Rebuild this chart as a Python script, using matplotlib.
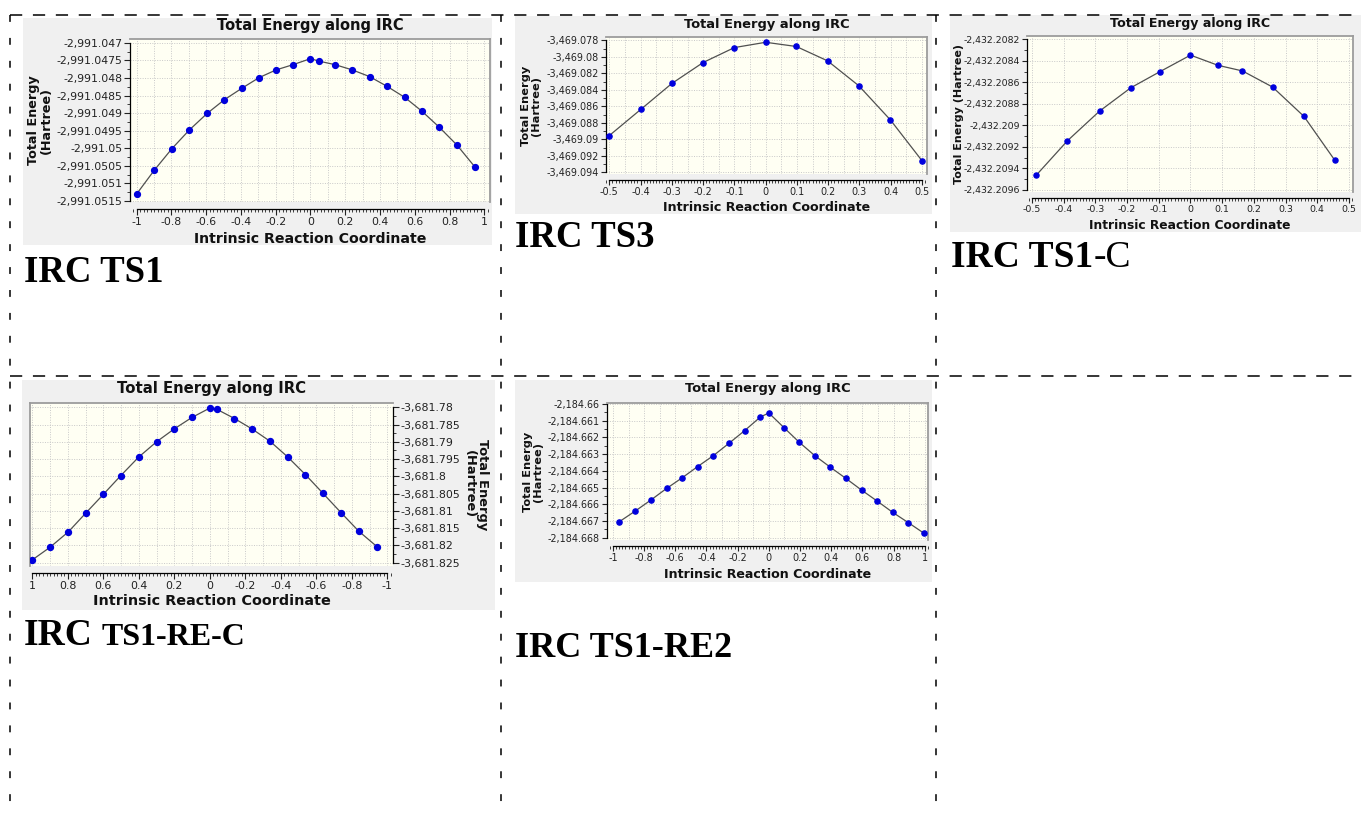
import numpy as np
import matplotlib.pyplot as plt
from matplotlib.patches import Rectangle
from matplotlib.ticker import MultipleLocator, AutoMinorLocator, FixedLocator, FuncFormatter

W, H = 1361, 817

# ---- data ----
ts1_x = [-1.0, -0.898, -0.797, -0.697, -0.595, -0.496, -0.394, -0.296, -0.198, -0.100, 0.0,
         0.049, 0.141, 0.241, 0.340, 0.438, 0.542, 0.640, 0.741, 0.843, 0.944]
ts1_e = [-2991.05130, -2991.05062, -2991.05001, -2991.04948, -2991.04901, -2991.04862,
         -2991.04829, -2991.04799, -2991.04777, -2991.04762, -2991.04745, -2991.04752,
         -2991.04762, -2991.04777, -2991.04796, -2991.04823, -2991.04855, -2991.04894,
         -2991.04940, -2991.04991, -2991.05052]
ts1_yticks = [-2991.047, -2991.0475, -2991.048, -2991.0485, -2991.049, -2991.0495,
              -2991.05, -2991.0505, -2991.051, -2991.0515]

ts3_x = [-0.5, -0.399, -0.300, -0.200, -0.100, 0.0, 0.098, 0.198, 0.298, 0.399, 0.5]
ts3_e = [-3469.08954, -3469.08636, -3469.08323, -3469.08069, -3469.07888, -3469.07824,
         -3469.07875, -3469.08049, -3469.08351, -3469.08765, -3469.09259]
ts3_yticks = [-3469.078, -3469.08, -3469.082, -3469.084, -3469.086, -3469.088,
              -3469.09, -3469.092, -3469.094]

ts1c_x = [-0.486, -0.388, -0.287, -0.188, -0.096, 0.0, 0.087, 0.164, 0.259, 0.358, 0.455]
ts1c_e = [-2432.209462, -2432.209143, -2432.208868, -2432.208650, -2432.208500,
          -2432.208347, -2432.208442, -2432.208494, -2432.208644, -2432.208917,
          -2432.209324]
ts1c_yticks = [-2432.2082, -2432.2084, -2432.2086, -2432.2088, -2432.209, -2432.2092,
               -2432.2094, -2432.2096]

rec_x = [1.0, 0.901, 0.797, 0.700, 0.600, 0.501, 0.400, 0.300, 0.201, 0.101, 0.0,
         -0.041, -0.139, -0.238, -0.338, -0.439, -0.538, -0.638, -0.739, -0.839, -0.942]
rec_e = [-3681.82422, -3681.82060, -3681.81610, -3681.81072, -3681.80524, -3681.79976,
         -3681.79438, -3681.78998, -3681.78626, -3681.78293, -3681.78020, -3681.78059,
         -3681.78323, -3681.78626, -3681.78978, -3681.79438, -3681.79947, -3681.80495,
         -3681.81052, -3681.81590, -3681.82040]
rec_yticks = [-3681.78, -3681.785, -3681.79, -3681.795, -3681.8, -3681.805, -3681.81,
              -3681.815, -3681.82, -3681.825]

re2_x = [-0.959, -0.857, -0.757, -0.656, -0.556, -0.456, -0.355, -0.255, -0.155, -0.054,
         0.0, 0.097, 0.195, 0.294, 0.394, 0.495, 0.595, 0.695, 0.795, 0.895, 0.996]
re2_e = [-2184.667045, -2184.666408, -2184.665751, -2184.665055, -2184.664418,
         -2184.663741, -2184.663085, -2184.662348, -2184.661592, -2184.660776,
         -2184.660537, -2184.661413, -2184.662289, -2184.663085, -2184.663781,
         -2184.664458, -2184.665154, -2184.665811, -2184.666488, -2184.667104,
         -2184.667741]
re2_yticks = [-2184.66, -2184.661, -2184.662, -2184.663, -2184.664, -2184.665,
              -2184.666, -2184.667, -2184.668]

TITLE = "Total Energy along IRC"
XLABEL = "Intrinsic Reaction Coordinate"

# layout in pixels: (left, top, right, bottom)
panels = [
    dict(x=ts1_x, e=ts1_e, yticks=ts1_yticks, bg=(23, 18, 492, 245), plot=(130, 39, 490, 202),
         title_y=25, xlabel_y=239, ylabel_x=40, xlim=(-1.0385, 1.033),
         ylim=(-2991.05153, -2991.04689), xstep=0.2, xgrid=0.1, xb=(-1, 1), s=1.0,
         oneline=False, mirror=False),
    dict(x=ts3_x, e=ts3_e, yticks=ts3_yticks, bg=(515, 16, 932, 214), plot=(606, 37, 927, 174),
         title_y=24, xlabel_y=207, ylabel_x=531, xlim=(-0.5107, 0.516),
         ylim=(-3469.0942, -3469.0776), xstep=0.1, xgrid=0.05, xb=(-0.5, 0.5), s=0.89,
         oneline=False, mirror=False),
    dict(x=ts1c_x, e=ts1c_e, yticks=ts1c_yticks, bg=(950, 15, 1361, 232), plot=(1027, 36, 1353, 192),
         title_y=23, xlabel_y=225, ylabel_x=959, xlim=(-0.5157, 0.5126),
         ylim=(-2432.20962, -2432.208169), xstep=0.1, xgrid=0.1, xb=(-0.5, 0.5), s=0.87,
         oneline=True, mirror=False),
    dict(x=rec_x, e=rec_e, yticks=rec_yticks, bg=(22, 380, 495, 610), plot=(30, 403, 393, 566),
         title_y=388, xlabel_y=601, ylabel_x=476, xlim=(1.013, -1.032),
         ylim=(-3681.826, -3681.77873), xstep=0.2, xgrid=0.1, xb=(-1, 1), s=1.02,
         oneline=False, mirror=True),
    dict(x=re2_x, e=re2_e, yticks=re2_yticks, bg=(515, 380, 932, 582), plot=(607, 403, 928, 540),
         title_y=388, xlabel_y=575, ylabel_x=533, xlim=(-1.038, 1.021),
         ylim=(-2184.66814, -2184.65994), xstep=0.2, xgrid=0.1, xb=(-1, 1), s=0.89,
         oneline=False, mirror=False),
]


def fig_rect(l, t, r, b):
    return [l / W, 1 - b / H, (r - l) / W, (b - t) / H]


def xfmt(v, _):
    if abs(v) < 1e-9:
        return "0"
    return f"{v:.2f}".rstrip("0").rstrip(".")


def yfmt(v, _):
    return f"{v:,.4f}".rstrip("0").rstrip(".")


fig = plt.figure(figsize=(W / 100, H / 100), dpi=100, facecolor="white")
canvas = fig.add_axes([0, 0, 1, 1])
canvas.set_xlim(0, W)
canvas.set_ylim(H, 0)
canvas.axis("off")

# dashed frame of the collage
hdash = dict(color="black", lw=1.1, linestyle=(0, (8, 7)))
vdash = dict(color="black", lw=1.1, linestyle=(0, (4.5, 10.5)))
canvas.plot([10, W], [15, 15], **hdash)
canvas.plot([10, W], [376, 376], **hdash)
for vx in (10, 501, 936):
    canvas.plot([vx, vx], [15, H], **vdash)

for p in panels:
    s = p["s"]
    l, t, r, b = p["bg"]
    canvas.add_patch(Rectangle((l, t), r - l, b - t, facecolor="#f0f0f0", edgecolor="none"))
    pl, pt, pr, pb = p["plot"]
    cx = (pl + pr) / 2
    cy = (pt + pb) / 2
    canvas.text(cx, p["title_y"], TITLE, ha="center", va="center",
                fontsize=10.5 * s, fontweight="bold", color="#111111")
    canvas.text(cx, p["xlabel_y"], XLABEL, ha="center", va="center",
                fontsize=10.2 * s, fontweight="bold", color="#111111")
    ylab = "Total Energy (Hartree)" if p["oneline"] else "Total Energy\n(Hartree)"
    canvas.text(p["ylabel_x"], cy, ylab, ha="center", va="center",
                rotation=270 if p["mirror"] else 90, fontsize=9.2 * s,
                fontweight="bold", linespacing=1.0, color="#111111")

    ax = fig.add_axes(fig_rect(*p["plot"]))
    ax.set_facecolor("#fffff3")
    ax.plot(p["x"], p["e"], color="#505050", lw=0.9, zorder=3)
    ax.plot(p["x"], p["e"], "o", ms=4.2 * s, color="#0000dd", mec="#0000dd", zorder=4)
    ax.set_xlim(*p["xlim"])
    ax.set_ylim(*p["ylim"])

    # dotted grid
    xg = np.arange(-1.0, 1.0001, p["xgrid"])
    ax.vlines(xg, *p["ylim"], colors="#c9c9c9", lw=0.7, linestyles=(0, (1, 1.5)), zorder=1)
    ax.hlines(p["yticks"], *sorted(p["xlim"]), colors="#c9c9c9", lw=0.7,
              linestyles=(0, (1, 1.5)), zorder=1)

    ax.xaxis.set_major_locator(MultipleLocator(p["xstep"]))
    ax.xaxis.set_minor_locator(AutoMinorLocator(10))
    ax.xaxis.set_major_formatter(FuncFormatter(xfmt))
    ax.yaxis.set_major_locator(FixedLocator(p["yticks"]))
    ax.yaxis.set_minor_locator(AutoMinorLocator(2))
    ax.yaxis.set_major_formatter(FuncFormatter(yfmt))

    ax.tick_params(which="major", length=4 * s, width=0.8, labelsize=7.8 * s,
                   colors="#222222", pad=1.5)
    ax.tick_params(which="minor", length=2.2 * s, width=0.6, colors="#222222")

    side, other = ("right", "left") if p["mirror"] else ("left", "right")
    if p["mirror"]:
        ax.yaxis.tick_right()
    ax.spines["bottom"].set_position(("outward", 5 * s))
    ax.spines["bottom"].set_bounds(*p["xb"])
    ax.spines["bottom"].set_linewidth(0.9)
    ax.spines[side].set_bounds(p["yticks"][-1], p["yticks"][0])
    ax.spines[side].set_linewidth(0.9)
    for sp in ("top", other):
        ax.spines[sp].set_color("#9c9c9c")
        ax.spines[sp].set_linewidth(1.3)

# big captions under each screenshot
serif = dict(fontfamily="Liberation Serif", color="black", va="baseline", ha="left")
canvas.text(24, 282, "IRC TS1", fontsize=26.5, fontweight="bold", **serif)
canvas.text(515, 247, "IRC TS3", fontsize=26.5, fontweight="bold", **serif)
canvas.text(515, 657, "IRC TS1-RE2", fontsize=26, fontweight="bold", **serif)

renderer = fig.canvas.get_renderer()
inv = canvas.transData.inverted()

t1 = canvas.text(951, 267, "IRC TS1", fontsize=27, fontweight="bold", **serif)
x_end = inv.transform((t1.get_window_extent(renderer).x1, 0))[0]
canvas.text(x_end, 267, "-C", fontsize=27, fontweight="normal", **serif)

t2 = canvas.text(24, 645, "IRC", fontsize=27, fontweight="bold", **serif)
x_end = inv.transform((t2.get_window_extent(renderer).x1, 0))[0]
canvas.text(x_end + 9, 645, "TS1-RE-C", fontsize=23, fontweight="bold", **serif)

fig.savefig("out.png", dpi=100, facecolor="white")
